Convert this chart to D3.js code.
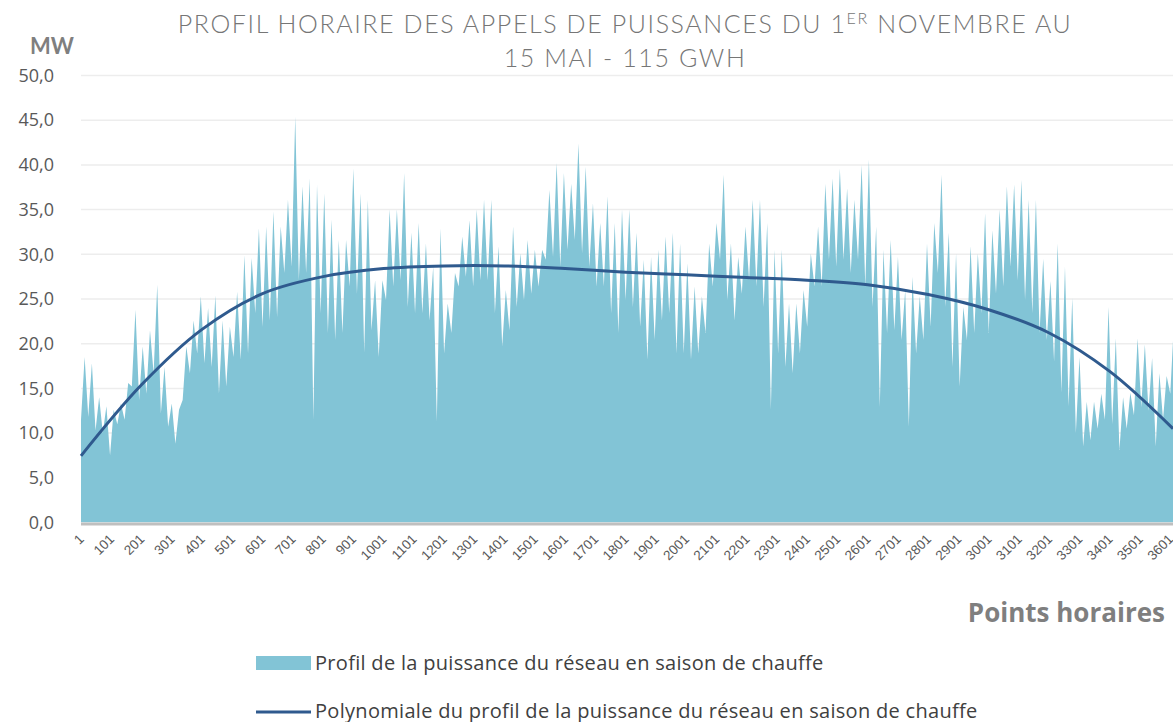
<!DOCTYPE html>
<meta charset="utf-8">
<style>
body { margin: 0; background: #fff; }
svg { font-family: "Open Sans", Lato, sans-serif; }
.grid line { stroke: #ededed; stroke-width: 1.5px; }
.ylab text { font-size: 18px; fill: #595959; font-family: "Open Sans", sans-serif; }
.xlab text { font-size: 13.5px; fill: #595959; }
</style>
<body>
<script src="https://d3js.org/d3.v7.min.js"></script>
<script>

// daily peak and daily low of the hourly profile (MW), day 0 = hours 1..24
var dayPeak = [18.5, 17.8, 14, 13, 12.6, 13.3, 15.6, 23.8, 19.7, 21.5,
  26.6, 17.4, 13.3, 12.6, 19.7, 22.6, 25.3, 24, 25.4, 22.6,
  21.9, 25.8, 29.9, 29.6, 32.9, 33.1, 34.8, 33.1, 36.1, 45.4,
  37.6, 38.5, 37.8, 36.8, 33.9, 31.6, 31.6, 39.6, 36.8, 36.1,
  27.1, 27.1, 35, 35, 39.1, 32.4, 33.5, 31.2, 28.6, 32.9,
  24.5, 27.9, 32, 33.8, 35, 36.1, 36.1, 30.9, 26, 33.1,
  30.1, 31.6, 30.5, 30.5, 37.2, 40.2, 39.1, 37.9, 42.4, 39.8,
  35.7, 33.5, 36.5, 33.5, 35, 35, 32.4, 29.4, 29.7, 30.5,
  32, 32.4, 31.2, 29, 26.4, 25.3, 31.2, 33.5, 38.9, 31.2,
  29.7, 33.1, 36.1, 36.1, 33.5, 30.5, 30.5, 24.5, 24.5, 26,
  30.1, 33.1, 37.9, 38.5, 39.6, 37.4, 36.1, 40, 40.6, 33.1,
  30.5, 31.6, 29.7, 26, 27.5, 25.3, 31.2, 33.5, 38.9, 32.4,
  30.1, 24.1, 30.9, 30.1, 34.6, 32.7, 35, 37.6, 37.8, 38.3,
  36.1, 36.1, 29.5, 27, 31.2, 28.6, 25.1, 18.5, 13.5, 13.5,
  14.4, 24.1, 20.6, 14, 14.5, 20.6, 19.9, 18.4, 16.7, 16.4,
  22.3];

var dayLow = [11.5, 11.8, 10.3, 10, 7.5, 11, 11.5, 15.2, 13.7, 14.4,
  16.7, 12.2, 10.7, 8.8, 13.7, 16.7, 18.9, 17.8, 17.4, 14.4,
  15.2, 18.5, 18.2, 18.9, 23.4, 21.9, 22.6, 23, 27.9, 28.6,
  27.1, 27.9, 11.5, 23.4, 21.2, 20.4, 21.2, 26.4, 25.6, 19,
  21.5, 18.5, 24.9, 26.4, 27.1, 24.1, 23.4, 23.4, 22.6, 11.3,
  18.9, 21.2, 26.4, 27.5, 26.4, 27.1, 27.1, 23.4, 19.7, 21.5,
  24.1, 24.9, 25.6, 26.4, 29.4, 29.7, 28.6, 30.5, 31.6, 30.1,
  28.6, 26.4, 26.4, 23.4, 21.2, 24.9, 24.1, 21.9, 18.2, 20.4,
  22.6, 23.4, 18.9, 18.9, 18.2, 18.9, 21.2, 26.4, 29.4, 24.9,
  22.6, 25.6, 27.1, 26.4, 24.1, 12.6, 18.9, 17.4, 16.7, 18.9,
  21.9, 26.4, 26.4, 29.4, 28.6, 29.4, 27.9, 29.4, 26.4, 24.1,
  12.9, 21.2, 21.5, 20.4, 10.7, 18.9, 20.4, 21.9, 27.9, 24.1,
  17.4, 15.2, 20.4, 21.2, 23.4, 21.2, 25.6, 26.4, 28.6, 27.1,
  24.9, 23.4, 21.2, 20.4, 18, 14.5, 13, 10, 8.5, 9.2,
  10.5, 11.5, 11, 8.1, 10.5, 12, 12.9, 12.5, 8.5, 11.5,
  14.4];

// polynomial trend
var trendPoints = [1, 201, 401, 601, 801, 1001, 1201, 1401, 1601, 1801,
  2001, 2201, 2401, 2601, 2801, 3001, 3201, 3401, 3610];
var trendValues = [7.45, 15.4, 21.6, 25.6, 27.5, 28.4, 28.7, 28.7, 28.4, 28.0,
  27.7, 27.4, 27.1, 26.6, 25.5, 23.8, 21.2, 16.9, 10.5];

var xTicks = d3.range(1, 3602, 100);
var yTicks = d3.range(0, 51, 5);

var W = 1173, H = 722;
var plotLeft = 81, plotRight = 1173, plotTop = 75.5, plotBottom = 522.5;

var svg = d3.select("body").append("svg")
    .attr("width", W)
    .attr("height", H);

var x = d3.scaleLinear().domain([1, 3610]).range([plotLeft, plotRight]);
var y = d3.scaleLinear().domain([0, 50]).range([plotBottom, plotTop]);

// gridlines
svg.append("g")
    .attr("class", "grid")
  .selectAll("line")
  .data(yTicks.slice(1))
  .enter().append("line")
    .attr("x1", plotLeft).attr("x2", plotRight)
    .attr("y1", function(d) { return y(d); })
    .attr("y2", function(d) { return y(d); });

svg.append("clipPath").attr("id", "plot")
  .append("rect")
    .attr("x", plotLeft).attr("y", 0)
    .attr("width", plotRight - plotLeft).attr("height", plotBottom);

// hourly profile: low at start of day, peak mid-day
var profile = [];
dayPeak.forEach(function(p, i) {
  profile.push({ h: i * 24 + 1, v: dayLow[i] });
  profile.push({ h: i * 24 + 13, v: p });
});

var area = d3.area()
    .x(function(d) { return x(d.h); })
    .y0(y(0))
    .y1(function(d) { return y(d.v); });

svg.append("path")
    .datum(profile)
    .attr("clip-path", "url(#plot)")
    .attr("fill", "#82c4d6")
    .attr("d", area);

// baseline
svg.append("line")
    .attr("x1", plotLeft).attr("x2", plotRight)
    .attr("y1", y(0) + 1.5).attr("y2", y(0) + 1.5)
    .attr("stroke", "#bfbfbf")
    .attr("stroke-width", 3);

// trend
var trend = trendPoints.map(function(p, i) { return { h: p, v: trendValues[i] }; });
svg.append("path")
    .datum(trend)
    .attr("fill", "none")
    .attr("stroke", "#2f5a8e")
    .attr("stroke-width", 3)
    .attr("d", d3.line()
        .curve(d3.curveCatmullRom)
        .x(function(d) { return x(d.h); })
        .y(function(d) { return y(d.v); }));

// y axis
var yAxis = svg.append("g")
    .attr("class", "ylab")
    .attr("transform", "translate(" + (plotLeft - 24) + ",0)")
    .call(d3.axisLeft(y).tickValues(yTicks).tickSize(0)
      .tickFormat(function(d) { return d3.format(".1f")(d).replace(".", ","); }));
yAxis.select(".domain").remove();

// x axis
var xAxis = svg.append("g")
    .attr("class", "xlab")
    .attr("transform", "translate(0," + (plotBottom + 14) + ")")
    .call(d3.axisBottom(x).tickValues(xTicks).tickSize(0).tickFormat(d3.format("d")));
xAxis.select(".domain").remove();
xAxis.selectAll("text")
    .style("text-anchor", "end")
    .attr("x", 0).attr("y", 0)
    .attr("dy", "0.35em")
    .attr("transform", "rotate(-45)");

// title
var title = svg.append("text")
    .attr("text-anchor", "middle")
    .attr("fill", "#767676")
    .style("font-family", "Lato, sans-serif")
    .style("font-size", "25px")
    .style("letter-spacing", "1.6px")
    .style("font-weight", 300);
title.append("tspan").attr("x", 625).attr("y", 33).text("PROFIL HORAIRE DES APPELS DE PUISSANCES DU 1");
title.append("tspan").style("font-size", "16px").attr("dy", -9).text("ER");
title.append("tspan").attr("dy", 9).text(" NOVEMBRE AU");
title.append("tspan").attr("x", 625).attr("y", 67).text("15 MAI - 115 GWH");

svg.append("text")
    .attr("x", 52).attr("y", 54)
    .attr("text-anchor", "middle")
    .attr("fill", "#7f7f7f")
    .style("font-family", "Lato, sans-serif")
    .style("font-size", "22px")
    .style("font-weight", "bold")
    .text("MW");

svg.append("text")
    .attr("x", 1165).attr("y", 622)
    .attr("text-anchor", "end")
    .attr("fill", "#7f7f7f")
    .style("font-size", "26px")
    .style("font-weight", "bold")
    .text("Points horaires");

// legend
var legend = svg.append("g")
    .style("font-size", "20px")
    .style("letter-spacing", "0.3px")
    .attr("fill", "#404040");
legend.append("rect")
    .attr("x", 256).attr("y", 656).attr("width", 55).attr("height", 14)
    .attr("fill", "#82c4d6");
legend.append("text").attr("x", 315).attr("y", 670).text("Profil de la puissance du réseau en saison de chauffe");
legend.append("line")
    .attr("x1", 256).attr("x2", 311).attr("y1", 712).attr("y2", 712)
    .attr("stroke", "#2f5a8e").attr("stroke-width", 3);
legend.append("text").attr("x", 315).attr("y", 718).text("Polynomiale du profil de la puissance du réseau en saison de chauffe");

</script>
</body>
